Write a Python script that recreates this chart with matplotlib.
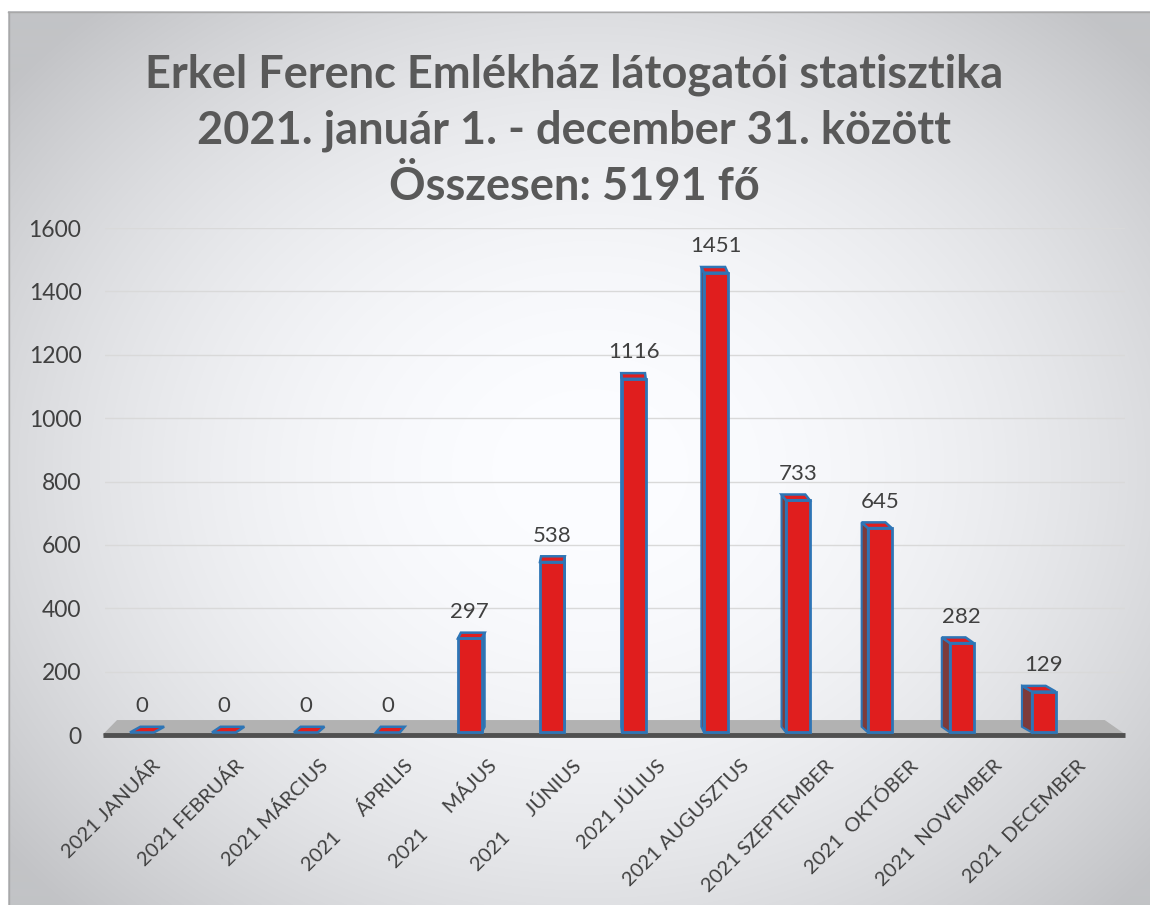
import numpy as np
import matplotlib
matplotlib.use("Agg")
import matplotlib.pyplot as plt

# data
months = ["2021 JANUÁR", "2021 FEBRUÁR", "2021 MÁRCIUS", "2021      ÁPRILIS",
          "2021      MÁJUS", "2021      JÚNIUS", "2021 JÚLIUS", "2021 AUGUSZTUS",
          "2021 SZEPTEMBER", "2021  OKTÓBER", "2021  NOVEMBER", "2021  DECEMBER"]
visitors = [0, 0, 0, 0, 297, 538, 1116, 1451, 733, 645, 282, 129]
yticks = [0, 200, 400, 600, 800, 1000, 1200, 1400, 1600]
title_lines = ["Erkel Ferenc Emlékház látogatói statisztika",
               "2021. január 1. - december 31. között",
               "Összesen: 5191 fő"]

W, H = 1150, 905
plt.rcParams['font.family'] = ['Lato', 'DejaVu Sans']
txt_col = '#404040'

fig = plt.figure(figsize=(W / 100, H / 100), dpi=100)

# scanned-page background: grey vignette, light in the middle
bg = fig.add_axes([0, 0, 1, 1], zorder=-10)
yy, xx = np.mgrid[0:H, 0:W]
r = ((xx - 590) / 680.0) ** 2 + ((yy - 470) / 560.0) ** 2
v = np.clip(254 - 48 * r, 196, 254)
img = np.dstack([v - 2, v - 1, v + 2]).clip(0, 255) / 255.0
img[:12, :, :] = 1.0
img[:, :8, :] = 1.0
bg.imshow(img, aspect='auto', extent=[0, W, H, 0])
bg.plot([8, W], [12.5, 12.5], color='#a8a8a8', lw=1)
bg.plot([8.5, 8.5], [12, H], color='#a8a8a8', lw=1)
bg.set_xlim(0, W)
bg.set_ylim(H, 0)
bg.axis('off')

ax = fig.add_axes([105 / W, 1 - 735 / H, (1125 - 105) / W, (735 - 228) / H])
ax.patch.set_alpha(0)
x = np.arange(len(months))
ax.set_xlim(-0.45, 11.99)
ax.set_ylim(0, 1600)

ax.set_yticks(yticks)
ax.yaxis.grid(True, color='#d9d9d9', lw=1)
ax.set_axisbelow(True)
ax.tick_params(axis='y', length=0, pad=17, labelsize=16.5, labelcolor=txt_col)
for s in ax.spines.values():
    s.set_visible(False)

# floor
ax.fill([-0.47, 11.99, 11.74, -0.3], [0, 0, 45, 45], color='#b2b2b2', zorder=1,
        clip_on=False)
ax.plot([-0.47, 11.99], [0, 0], color='#505050', lw=3.5, zorder=2,
        solid_capstyle='butt', clip_on=False)

# 3D-looking bars (back face shifted towards the centre, a little up)
w = 0.29
dy = 18
red = '#e01e1e'
blue = '#2e75b6'
side = '#7d3b3b'
for i, val in enumerate(visitors):
    dx = 0.0226 * (5.6 - i)
    base = 8
    top = base + val
    ex = i + w / 2 if dx > 0 else i - w / 2
    if val > 0:
        ax.fill([ex, ex, ex + dx, ex + dx], [base, top, top + dy, base + dy],
                color=side, ec=blue, lw=1.5, zorder=3)
        ax.bar(i, val, width=w, bottom=base, color=red, edgecolor=blue,
               linewidth=2, zorder=4)
    ax.fill([i - w / 2, i + w / 2, i + w / 2 + dx, i - w / 2 + dx],
            [top, top, top + dy, top + dy], color=red, ec=blue, lw=1.8, zorder=5)
    ax.text(i, top + 52, str(val), ha='center', va='bottom', fontsize=16,
            color=txt_col, zorder=6)

# category labels sit on a slightly wider spacing than the bars
ax.set_xticks(x * 1.027 + 0.183)
ax.set_xticklabels(months, rotation=45, ha='right', va='center',
                   rotation_mode='anchor', fontsize=14.5, color=txt_col)
ax.tick_params(axis='x', length=0, pad=20)

for k, line in enumerate(title_lines):
    fig.text(574 / W, 1 - (75 + 56 * k) / H, line, ha='center', va='center',
             fontsize=32.5, fontweight='bold', color='#595959')

fig.savefig('out.png', dpi=100)
